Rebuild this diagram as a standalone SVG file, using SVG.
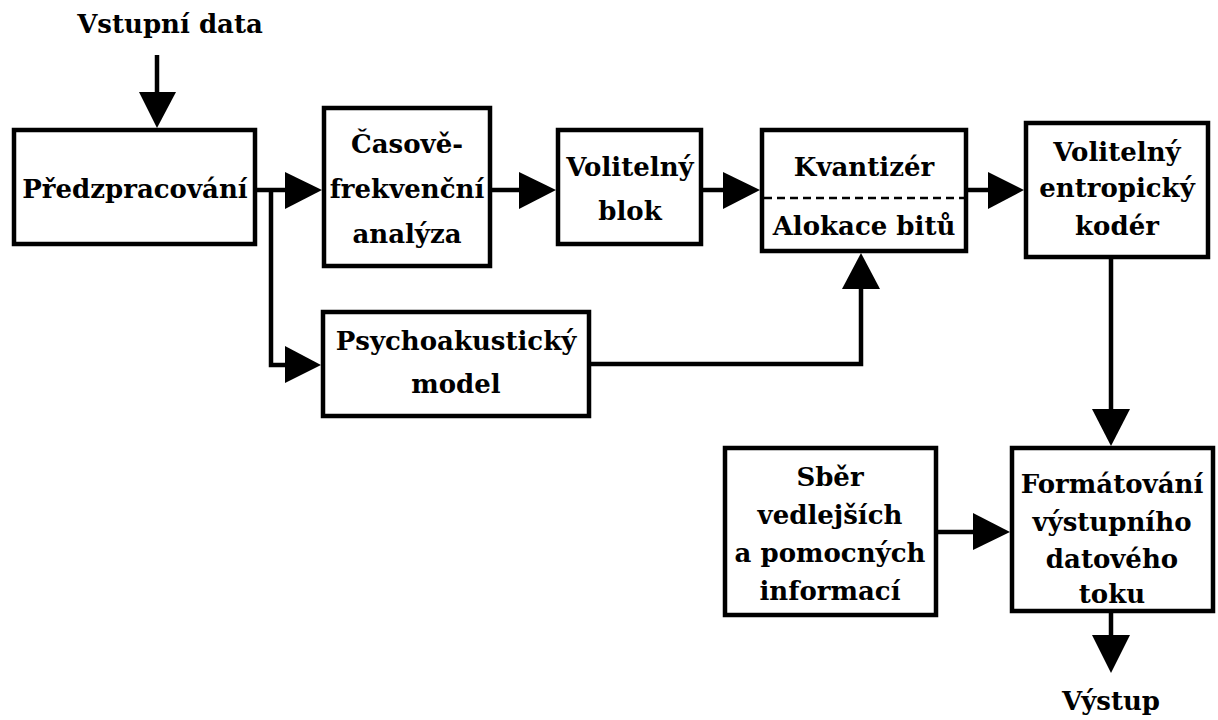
<svg xmlns="http://www.w3.org/2000/svg" width="1218" height="720" viewBox="0 0 1218 720">
<style>
  .box { fill: #ffffff; stroke: #000000; stroke-width: 4.5; }
  .t { font-family: "DejaVu Serif", "Liberation Serif", serif; font-weight: bold; font-size: 26px; fill: #000000; text-anchor: middle; }
  .ln { fill: none; stroke: #000000; stroke-width: 4.5; stroke-linejoin: miter; }
  .head { fill: #000000; stroke: none; }
  .dash { stroke: #000000; stroke-width: 2.5; stroke-dasharray: 8 5; }
</style>
<rect width="1218" height="720" fill="#ffffff"/>

<g id="connectors">
  <line class="ln" x1="157" y1="55" x2="157" y2="93"/>
  <polygon class="head" points="139,92 176,92 157,128"/>

  <line class="ln" x1="255" y1="190" x2="286" y2="190"/>
  <polygon class="head" points="285,172 285,209 322,190"/>

  <polyline class="ln" points="271,190 271,365 286,365"/>
  <polygon class="head" points="285,346 285,383 321,365"/>

  <line class="ln" x1="490" y1="190" x2="521" y2="190"/>
  <polygon class="head" points="519,172 519,209 556,190"/>

  <line class="ln" x1="701" y1="190" x2="724" y2="190"/>
  <polygon class="head" points="723,172 723,209 760,190"/>

  <line class="ln" x1="966" y1="190" x2="989" y2="190"/>
  <polygon class="head" points="988,172 988,209 1024,190"/>

  <polyline class="ln" points="589,364 861,364 861,288"/>
  <polygon class="head" points="842,289 880,289 861,253"/>

  <line class="ln" x1="1111" y1="257" x2="1111" y2="410"/>
  <polygon class="head" points="1092,409 1130,409 1111,446"/>

  <line class="ln" x1="936" y1="532" x2="974" y2="532"/>
  <polygon class="head" points="973,513 973,550 1010,532"/>

  <line class="ln" x1="1111" y1="611" x2="1111" y2="636"/>
  <polygon class="head" points="1092,635 1130,635 1111,673"/>
</g>

<g id="input-label">
  <text class="t" x="170" y="33">Vstupní data</text>
</g>

<g id="node-predzpracovani">
  <rect class="box" x="14" y="130" width="241" height="114"/>
  <text class="t" x="135" y="198">Předzpracování</text>
</g>

<g id="node-casove">
  <rect class="box" x="324" y="108" width="166" height="158"/>
  <text class="t" x="407" y="153">Časově-</text>
  <text class="t" x="407" y="198">frekvenční</text>
  <text class="t" x="407" y="243">analýza</text>
</g>

<g id="node-volitelny-blok">
  <rect class="box" x="558" y="130" width="143" height="114"/>
  <text class="t" x="630" y="176">Volitelný</text>
  <text class="t" x="630" y="220">blok</text>
</g>

<g id="node-kvantizer">
  <rect class="box" x="762" y="130" width="204" height="121"/>
  <line class="dash" x1="764" y1="198" x2="964" y2="198"/>
  <text class="t" x="864" y="176">Kvantizér</text>
  <text class="t" x="864" y="235">Alokace bitů</text>
</g>

<g id="node-entropicky">
  <rect class="box" x="1026" y="123" width="182" height="134"/>
  <text class="t" x="1117" y="161">Volitelný</text>
  <text class="t" x="1117" y="197">entropický</text>
  <text class="t" x="1117" y="235">kodér</text>
</g>

<g id="node-psycho">
  <rect class="box" x="323" y="312" width="266" height="104"/>
  <text class="t" x="456" y="350">Psychoakustický</text>
  <text class="t" x="456" y="393">model</text>
</g>

<g id="node-sber">
  <rect class="box" x="725" y="448" width="211" height="167"/>
  <text class="t" x="830" y="486">Sběr</text>
  <text class="t" x="830" y="524">vedlejších</text>
  <text class="t" x="830" y="562">a pomocných</text>
  <text class="t" x="830" y="600">informací</text>
</g>

<g id="node-formatovani">
  <rect class="box" x="1012" y="448" width="201" height="163"/>
  <text class="t" x="1112" y="493">Formátování</text>
  <text class="t" x="1112" y="531">výstupního</text>
  <text class="t" x="1112" y="568">datového</text>
  <text class="t" x="1112" y="603">toku</text>
</g>

<g id="output-label">
  <text class="t" x="1111" y="710">Výstup</text>
</g>
</svg>
